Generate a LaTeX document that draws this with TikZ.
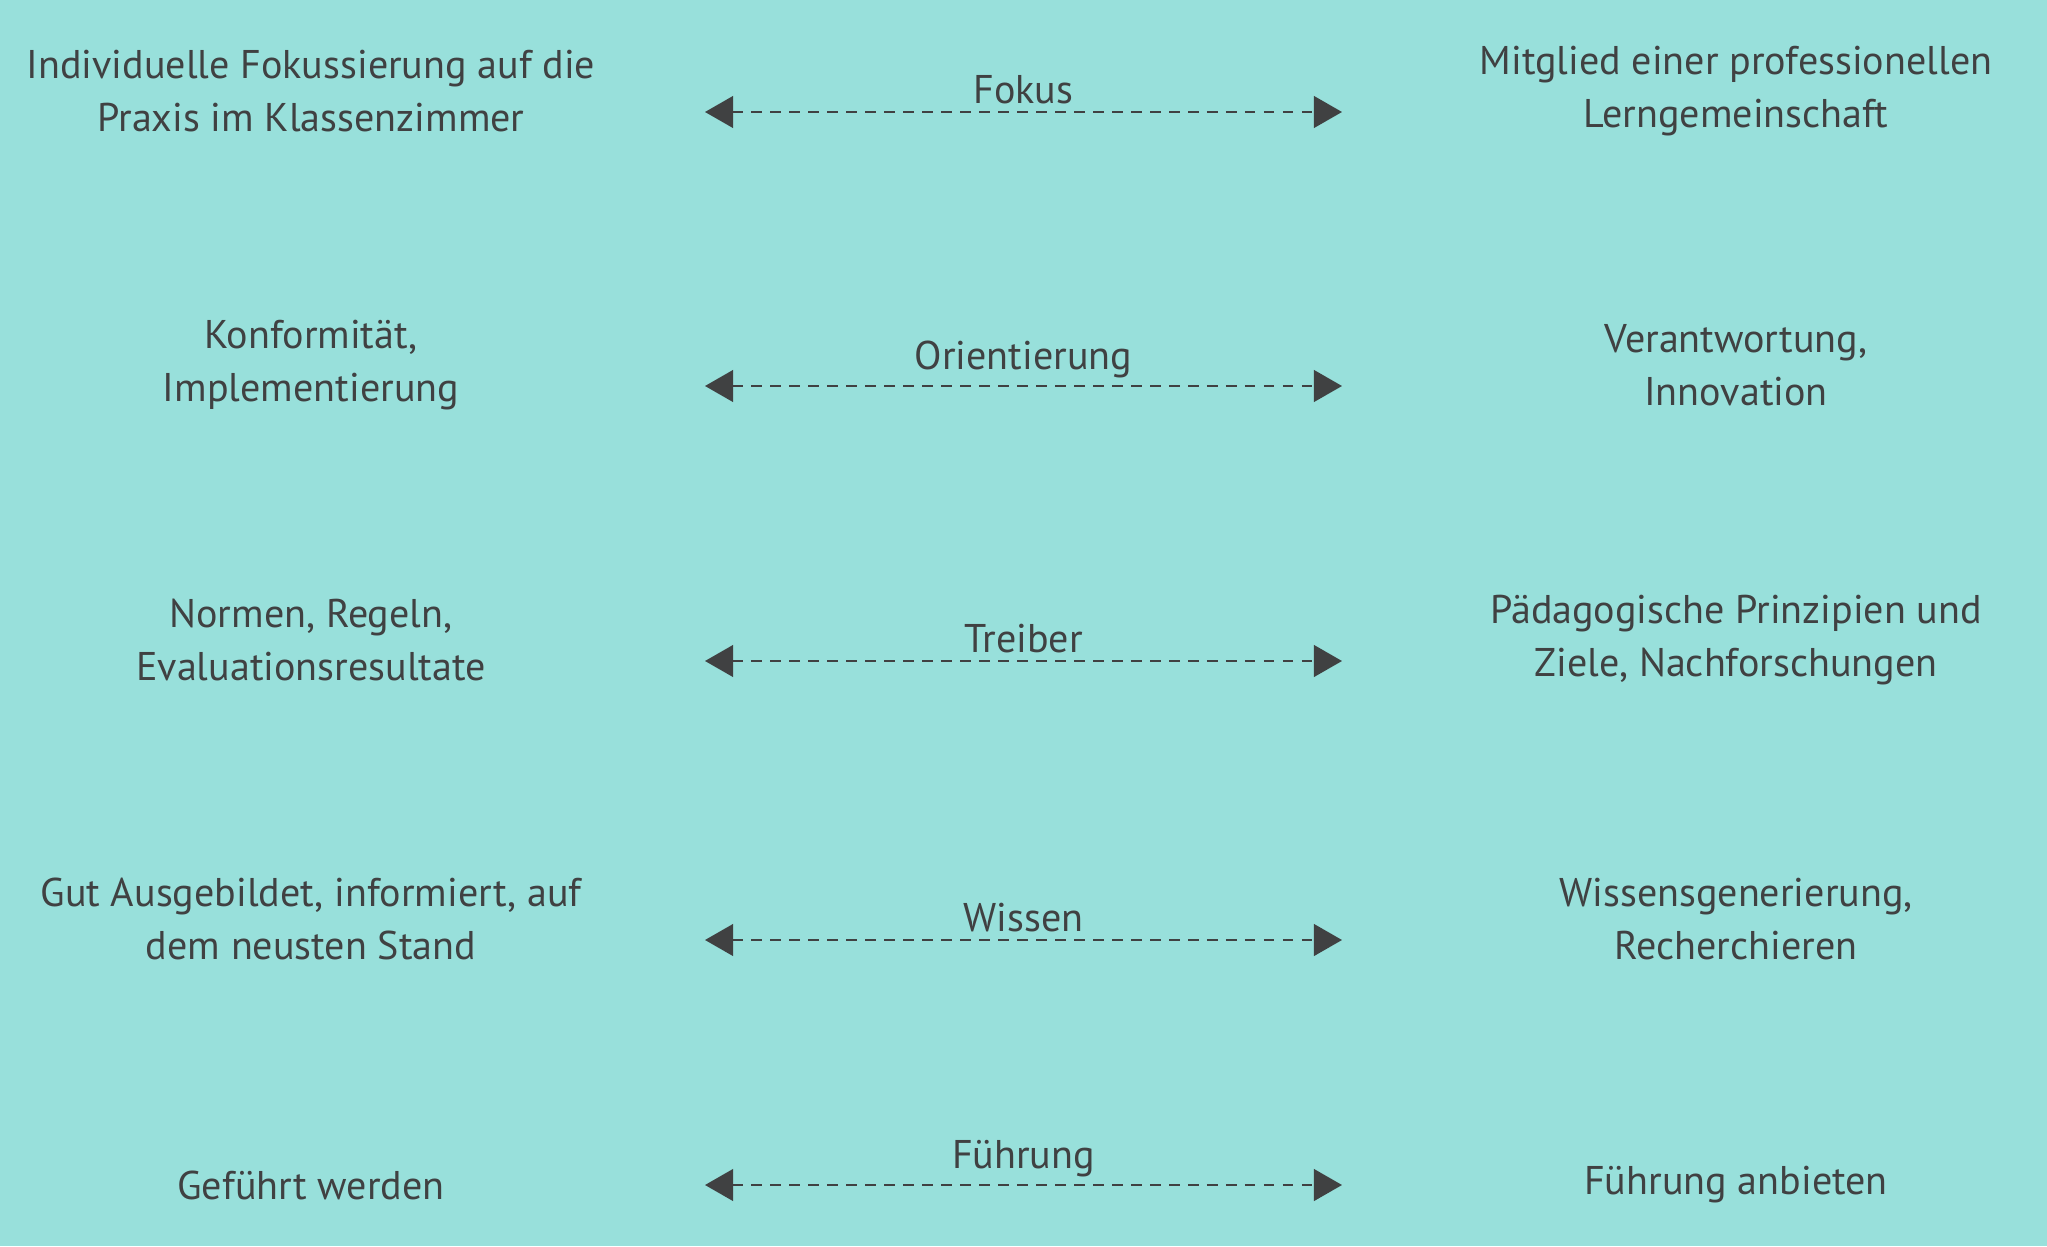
\documentclass[tikz,border=0pt]{standalone}
\usepackage{fontspec}
\setmainfont{PT Sans}
\usetikzlibrary{positioning,arrows.meta}
\definecolor{bgteal}{HTML}{98E0DB}
\definecolor{txtgrey}{HTML}{404142}
\begin{document}
\begin{tikzpicture}[x=1cm, y=1cm, every node/.style={text=txtgrey, font=\fontsize{11.4}{15.2}\selectfont, align=center}, pole/.style={inner sep=0pt}, link/.style={{Triangle[length=8pt,width=9pt]}-{Triangle[length=8pt,width=9pt]}, dash pattern=on 3pt off 2.4pt, txtgrey, line width=0.7pt}, linklabel/.style={above, inner sep=1pt, yshift=1pt}]

  \useasboundingbox (0,0) rectangle (20.47,12.46);
  \fill[bgteal] (0,0) rectangle (20.47,12.46);

  % anchors for the arrows
  \coordinate (fokusL) at (7.05,11.34);   \coordinate (fokusR) at (13.42,11.34);
  \coordinate (orientL) at (7.05,8.60);   \coordinate (orientR) at (13.42,8.60);
  \coordinate (treibL) at (7.05,5.85);    \coordinate (treibR) at (13.42,5.85);
  \coordinate (wissenL) at (7.05,3.06);   \coordinate (wissenR) at (13.42,3.06);
  \coordinate (fuehrL) at (7.05,0.61);    \coordinate (fuehrR) at (13.42,0.61);

  \node[pole] (fokusA) at (3.11,11.55) {Individuelle Fokussierung auf die\\Praxis im Klassenzimmer};
  \node[pole] (fokusB) at (17.36,11.55) {Mitglied einer professionellen\\Lerngemeinschaft};
  \node[pole] (orientA) at (3.11,8.81) {Konformität,\\Implementierung};
  \node[pole] (orientB) at (17.36,8.81) {Verantwortung,\\Innovation};
  \node[pole] (treibA) at (3.11,6.06) {Normen, Regeln,\\Evaluationsresultate};
  \node[pole] (treibB) at (17.36,6.06) {Pädagogische Prinzipien und\\Ziele, Nachforschungen};
  \node[pole] (wissenA) at (3.11,3.27) {Gut Ausgebildet, informiert, auf\\dem neusten Stand};
  \node[pole] (wissenB) at (17.36,3.27) {Wissensgenerierung,\\Recherchieren};
  \node[pole] (fuehrA) at (3.11,0.61) {Geführt werden};
  \node[pole] (fuehrB) at (17.36,0.61) {Führung anbieten};

  \draw[link] (fokusL) -- node[linklabel] {Fokus} (fokusR);
  \draw[link] (orientL) -- node[linklabel] {Orientierung} (orientR);
  \draw[link] (treibL) -- node[linklabel] {Treiber} (treibR);
  \draw[link] (wissenL) -- node[linklabel] {Wissen} (wissenR);
  \draw[link] (fuehrL) -- node[linklabel] {Führung} (fuehrR);
\end{tikzpicture}
\end{document}
